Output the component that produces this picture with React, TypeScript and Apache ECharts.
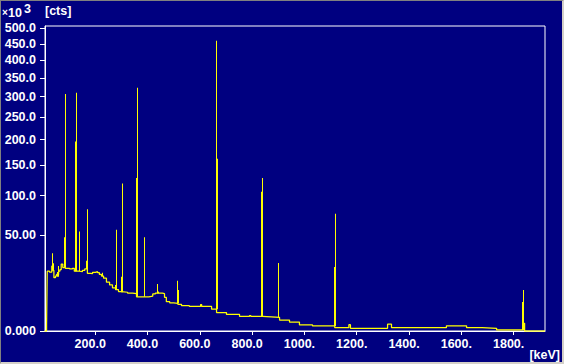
import React, { useEffect, useRef } from "react";
import * as echarts from "echarts";

// Continuum (step histogram) energies in keV and counts in kcts
const contKeV = [6, 14, 16.5, 25, 34, 39, 42, 48, 52, 60, 65, 70, 76, 86, 102, 113, 120, 140, 151, 160, 170, 182, 190, 201, 209, 216, 224, 232, 243, 255, 266, 278, 289, 300, 324, 343, 358, 405, 420, 430, 457, 465, 472, 485, 500, 516, 530, 560, 590, 603, 607, 645, 664, 702, 752, 790, 795, 840, 889, 905, 943, 981, 1031, 1116, 1170, 1176, 1318, 1333, 1543, 1620, 1680, 1735, 1836, 1842, 1920];
const contCts = [0, 0.2, 19.5, 19.0, 23, 20, 15.5, 16.5, 17.5, 19.5, 20.5, 24.5, 22, 21.5, 21, 21.5, 19.5, 19.2, 20, 21, 18.2, 18, 18.8, 19.2, 18.6, 17.5, 16.5, 15.2, 13, 11.6, 10.2, 9.3, 8.5, 8.2, 7.8, 7.6, 6.4, 6.6, 7.5, 7.8, 7.6, 6.2, 4.7, 4.3, 4.2, 3.9, 3.5, 3.3, 3.3, 3.8, 3.3, 2.6, 1.85, 1.5, 1.15, 1.3, 1.15, 1.05, 1.0, 0.66, 0.44, 0.2, 0.14, 0.06, 0.22, 0.04, 0.25, 0.06, 0.15, 0.06, 0.04, 0.006, 0.32, 0, 0];

// Peaks: thin line (max channel) and adjacent shoulder channel
const peakKeV = [34, 56, 84, 126, 137, 168, 225, 279, 304, 359, 386, 438, 512, 661, 837, 898, 1116, 1835];
const peakTop = [33, 23, 307, 310, 54, 81, 18.5, 56, 119, 323, 48, 12.1, 13.8, 460, 128, 25.3, 75, 9.2];
const shoulderKeV = [38, 53, 79, 122, 137, 164, 225, 276, 300, 355, 386, 441, 515, 664, 834, 898, 1113, 1832];
const shoulderTop = [25, 19, 48, 196, 19.5, 27, 16.5, 11.6, 16, 128, 6.4, 8.5, 9.2, 162, 106, 1.0, 22.4, 4.6];
const peakBase = [20, 16, 22, 19.5, 19.5, 21, 16.5, 9.3, 8.2, 6.4, 6.4, 7.8, 4.2, 2.6, 1.15, 1.0, 0.14, 0.006];

const yTicks = [0, 50, 100, 150, 200, 250, 300, 350, 400, 450, 500];
const yTickLabels = ["0.000", "50.00", "100.0", "150.0", "200.0", "250.0", "300.0", "350.0", "400.0", "450.0", "500.0"];
const xTicks = [200, 400, 600, 800, 1000, 1200, 1400, 1600, 1800];
const xTickLabels = ["200.0", "400.0", "600.0", "800.0", "1000.", "1200.", "1400.", "1600.", "1800."];

const X_MIN = 8;
const X_MAX = 1920;
const Y_MAX = 508;

const FONT = '"Liberation Sans", Arial, sans-serif';

export default function App() {
  const ref = useRef<HTMLDivElement>(null);

  useEffect(() => {
    if (!ref.current) return;
    const chart = echarts.init(ref.current, null, { renderer: "svg" });
    const sq = (v: number) => Math.sqrt(Math.max(0, v));
    const lineData = contKeV.map((e, i) => [e, sq(contCts[i])]);
    const peakData = peakKeV.map((e, i) => [e, sq(peakTop[i]), shoulderKeV[i], sq(shoulderTop[i]), sq(peakBase[i])]);
    const yCustom = yTicks.map((v) => Math.sqrt(v));

    const txt = { color: "#ffffff", fontFamily: FONT, fontWeight: "bold" as const, fontSize: 12.5 };

    chart.setOption({
      animation: false,
      backgroundColor: "#000080",
      grid: {
        left: 45,
        top: 26,
        right: 19,
        bottom: 33,
        show: true,
        backgroundColor: "#000080",
        borderColor: "#ffffff",
        borderWidth: 1,
      },
      xAxis: {
        type: "value",
        min: X_MIN,
        max: X_MAX,
        axisLine: { show: true, lineStyle: { color: "#ffffff", width: 1 } },
        axisTick: { show: true, length: 4, lineStyle: { color: "#ffffff" }, customValues: xTicks },
        splitLine: { show: false },
        axisLabel: {
          ...txt,
          margin: 6,
          align: "center",
          padding: [0, 10, 0, 0],
          customValues: xTicks,
          formatter: (v: number) => {
            const i = xTicks.findIndex((t) => Math.abs(t - v) < 1e-6);
            return i >= 0 ? xTickLabels[i] : "";
          },
        },
      },
      yAxis: {
        type: "value",
        min: 0,
        max: Math.sqrt(Y_MAX),
        axisLine: { show: true, lineStyle: { color: "#ffffff", width: 1 } },
        axisTick: { show: true, length: 5, lineStyle: { color: "#ffffff" }, customValues: yCustom },
        splitLine: { show: false },
        axisLabel: {
          ...txt,
          margin: 9,
          customValues: yCustom,
          formatter: (v: number) => {
            const i = yCustom.findIndex((t) => Math.abs(t - v) < 1e-6);
            return i >= 0 ? yTickLabels[i] : "";
          },
        },
      },
      graphic: [
        { type: "text", left: 2, top: 7, style: { text: "×", fill: "#fff", font: `bold 10px ${FONT}` } },
        { type: "text", left: 8, top: 6, style: { text: "10", fill: "#fff", font: `bold 12.5px ${FONT}` } },
        { type: "text", left: 24, top: 2, style: { text: "3", fill: "#fff", font: `bold 12.5px ${FONT}` } },
        { type: "text", left: 45, top: 4, style: { text: "[cts]", fill: "#fff", font: `bold 12.5px ${FONT}` } },
        { type: "text", right: 4, top: 348, style: { text: "[keV]", fill: "#fff", font: `bold 12.5px ${FONT}` } },
      ],
      series: [
        {
          type: "line",
          data: lineData,
          step: "end",
          symbol: "none",
          lineStyle: { color: "#ffff00", width: 1.25 },
          z: 3,
        },
        {
          type: "custom",
          data: peakData,
          encode: { x: [0, 2], y: [1, 3, 4] },
          z: 4,
          renderItem: (params: any, api: any) => {
            const eT = api.value(0);
            const top = api.value(1);
            const eS = api.value(2);
            const sh = api.value(3);
            const base = api.value(4);
            const pTop = api.coord([eT, top]);
            const pBase = api.coord([eT, base]);
            const sTop = api.coord([eS, sh]);
            const xt = Math.round(pTop[0]);
            let xs = Math.round(sTop[0]);
            if (eS < eT && xs >= xt) xs = xt - 1;
            if (eS > eT && xs <= xt) xs = xt + 1;
            const children: any[] = [
              {
                type: "rect",
                shape: { x: xt, y: pTop[1], width: 1, height: Math.max(0, pBase[1] - pTop[1]) },
                style: { fill: "#ffff00" },
              },
            ];
            if (eS !== eT) {
              children.push({
                type: "rect",
                shape: { x: xs, y: sTop[1], width: 1, height: Math.max(0, pBase[1] - sTop[1]) },
                style: { fill: "#ffff00" },
              });
            }
            return { type: "group", children };
          },
        },
      ],
    });
    return () => chart.dispose();
  }, []);

  return (
    <div style={{ position: "absolute", left: 0, top: 0, width: 564, height: 364 }}>
      <div ref={ref} style={{ width: 564, height: 364 }} />
      <div
        style={{
          position: "absolute",
          left: 0,
          top: 0,
          width: 564,
          height: 364,
          boxSizing: "border-box",
          borderStyle: "solid",
          borderWidth: "1px 2px 2px 1px",
          borderColor: "#808080 #d4d0c8 #d4d0c8 #808080",
          pointerEvents: "none",
        }}
      />
    </div>
  );
}
